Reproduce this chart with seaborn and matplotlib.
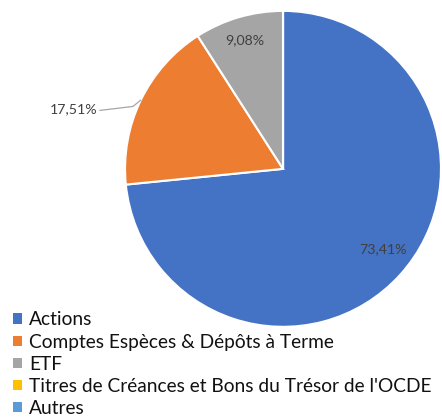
import matplotlib
matplotlib.use("Agg")
import matplotlib.pyplot as plt
from matplotlib.patches import Patch
import numpy as np
import seaborn as sns

categories = ["Actions", "Comptes Espèces & Dépôts à Terme", "ETF",
              "Titres de Créances et Bons du Trésor de l'OCDE", "Autres"]
values = [73.41, 17.51, 9.08, 0.0, 0.0]
value_labels = ["73,41%", "17,51%", "9,08%", "", ""]
colors = ["#4472C4", "#ED7D31", "#A5A5A5", "#FFC000", "#5B9BD5"]

sns.set_theme(style="white")
plt.rcParams['font.family'] = ['Lato', 'DejaVu Sans']

fig = plt.figure(figsize=(4.42, 4.19), dpi=100)
ax = fig.add_axes([0.2828, 0.220, 0.715, 0.754])
sns.set_palette(colors)

wedges, _ = ax.pie(values, colors=colors, startangle=90, counterclock=False,
                   wedgeprops=dict(edgecolor="white", linewidth=1.5))
ax.set_aspect("equal")
ax.set_xlim(-1, 1)
ax.set_ylim(-1, 1)
ax.axis("off")

lab_color = "#404040"
fs_lab = 10.2
for w, lab in zip(wedges, value_labels):
    if not lab:
        continue
    mid = np.deg2rad((w.theta1 + w.theta2) / 2)
    c, s = np.cos(mid), np.sin(mid)
    if lab == "17,51%":
        ax.plot([c, -0.95, -1.16], [s, 0.395, 0.37], color="#A6A6A6", lw=0.9,
                clip_on=False)
        ax.text(-1.175, 0.38, lab, ha="right", va="center", fontsize=fs_lab,
                color=lab_color)
    elif lab == "73,41%":
        ax.text(0.81 * c + 0.03, 0.81 * s + 0.035, lab, ha="center", va="center",
                fontsize=fs_lab, color=lab_color)
    else:
        ax.text(0.85 * c, 0.85 * s, lab, ha="center", va="center",
                fontsize=fs_lab, color=lab_color)

handles = [Patch(facecolor=col, edgecolor="none") for col in colors]
leg = fig.legend(handles, categories, loc="upper left", bbox_to_anchor=(0.012, 0.275),
                 frameon=False, fontsize=13.8, handlelength=0.45, handleheight=0.45,
                 handletextpad=0.4, labelspacing=0.27, borderaxespad=0,
                 labelcolor="#111111")

fig.savefig("out.png", dpi=100)
